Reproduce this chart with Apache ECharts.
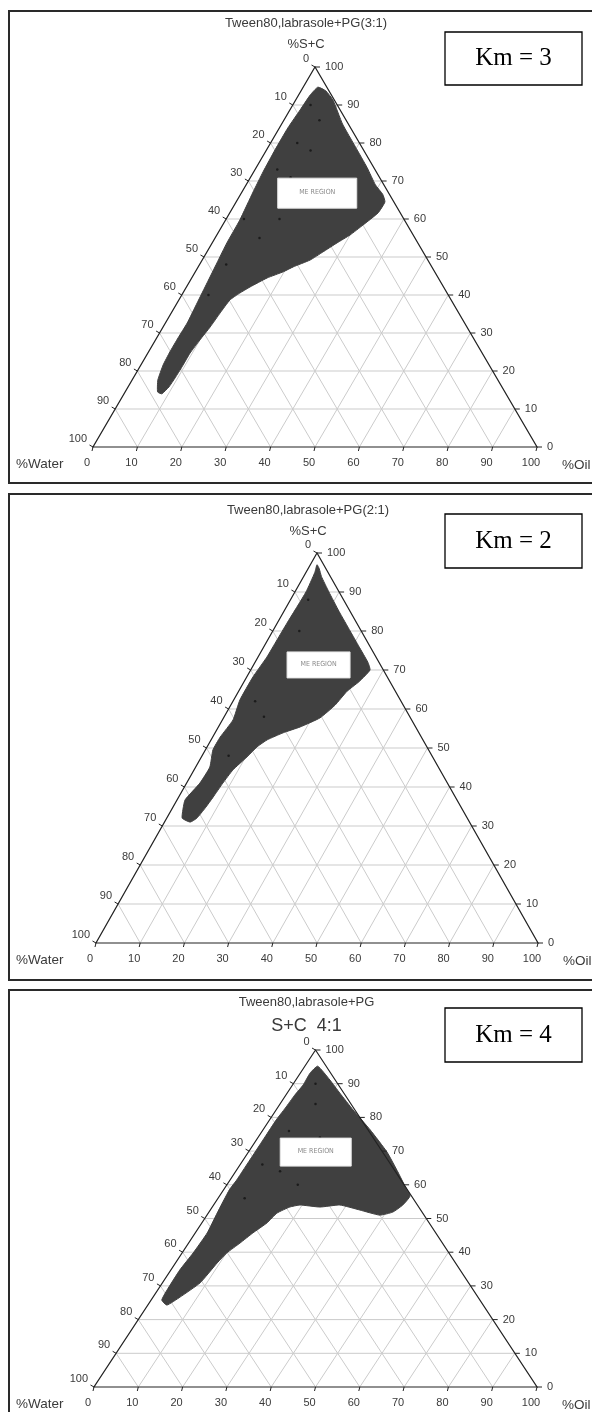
<!DOCTYPE html>
<html><head><meta charset="utf-8">
<script src="https://cdn.jsdelivr.net/npm/echarts@6/dist/echarts.min.js"></script>
<style>html,body{margin:0;padding:0;background:#fff}#c{width:592px;height:1412px}</style>
</head><body><div id="c"></div>
<script>
// ---------- data ----------
const tickValues = [0,10,20,30,40,50,60,70,80,90,100];
const gridLevels = [10,20,30,40,50,60,70,80,90];
const panelTitles = ['Tween80,labrasole+PG(3:1)','Tween80,labrasole+PG(2:1)','Tween80,labrasole+PG'];
const panelSubtitles = ['%S+C','%S+C','S+C  4:1'];
const kmLabels = ['Km = 3','Km = 2','Km = 4'];
const leftCornerLabel = '%Water';
const rightCornerLabel = '%Oil';
const meLabel = 'ME REGION';
// ME region boundaries as [oil %, S+C %]
const regionKm3 = [[3.3,94.7],[5.6,93.7],[8.4,91.3],[13.7,85.0],[19.6,79.0],[25.0,73.5],[29.1,69.0],[32.0,66.5],[33.5,64.5],[33.4,61.6],[31.6,58.4],[30.0,55.8],[28.1,53.7],[26.1,51.3],[24.3,49.2],[21.4,47.4],[19.8,46.1],[17.0,44.5],[14.3,42.1],[12.8,40.5],[11.5,38.7],[11.0,35.3],[10.6,31.6],[10.0,28.2],[9.5,24.7],[9.5,21.1],[9.4,18.2],[9.2,15.8],[8.5,14.0],[7.3,14.5],[5.8,17.6],[5.0,21.6],[4.8,25.0],[4.8,28.7],[4.9,32.6],[4.5,37.9],[4.1,43.2],[3.7,48.4],[3.3,53.7],[3.2,59.7],[2.5,67.1],[2.1,72.4],[1.9,78.2],[1.9,84.0],[2.3,88.7],[2.6,92.6]];
const regionKm2 = [[1.5,97.0],[2.5,96.0],[4.0,94.0],[7.7,90.0],[12.5,85.0],[17.5,80.0],[21.5,76.0],[25.5,72.0],[27.0,70.0],[26.0,67.0],[24.5,64.5],[23.6,61.0],[21.8,57.7],[18.5,55.4],[15.4,53.9],[12.7,52.1],[11.3,50.3],[10.3,47.7],[8.8,44.4],[8.2,41.0],[7.8,37.4],[7.4,34.6],[6.8,32.0],[5.8,31.0],[3.5,32.0],[2.6,34.1],[1.8,36.7],[3.0,41.0],[3.2,45.1],[1.7,49.5],[1.7,52.8],[2.4,57.2],[1.4,62.3],[1.4,68.2],[2.0,73.3],[2.1,77.7],[2.2,82.0],[2.5,90.0],[2.0,95.0]];
const regionKm4 = [[2.9,95.2],[7.7,91.1],[11.9,87.2],[17.4,82.2],[24.2,76.3],[31.3,69.7],[36.7,63.8],[40.4,59.6],[43.0,56.7],[42.7,54.0],[41.5,51.9],[39.0,51.0],[33.8,52.5],[28.5,54.0],[24.3,53.4],[19.5,54.0],[17.5,53.4],[15.5,51.6],[14.7,48.7],[13.0,45.7],[11.6,42.7],[10.1,39.8],[9.4,36.8],[8.5,30.9],[6.1,26.7],[4.3,24.3],[2.4,25.8],[2.1,28.8],[2.0,34.7],[2.5,39.8],[2.7,45.7],[2.0,51.6],[1.3,58.5],[1.5,61.4],[1.5,68.2],[1.5,74.2],[1.5,79.2],[1.8,82.8],[2.0,86.6],[2.4,89.6],[2.2,93.2]];
const regions = [regionKm3, regionKm2, regionKm4];
// scattered formulation points visible inside the regions [oil %, S+C %]
const dotsKm3 = [[4,90],[8,86],[6,80],[10,78],[5,73],[9,71],[4,60],[12,60],[6,48],[10,55],[6,40]];
const dotsKm2 = [[4,88],[6,80],[8,72],[5,62],[9,58],[6,48]];
const dotsKm4 = [[5,90],[8,84],[6,76],[14,74],[5,66],[10,64],[16,60],[6,56]];
const dots = [dotsKm3, dotsKm2, dotsKm4];
// ME REGION label anchor [oil %, S+C %]
const meAnchors = [[17.1,66.8],[14.7,71.3],[15.2,69.7]];

// ---------- layout (pixels) ----------
const panels = [
  {grid:{left:93, top:67, width:444, height:380}, frame:[9,11,600,472], titleY:23, subY:44, subSize:13, km:[445,32,137,53], me:[79,30]},
  {grid:{left:96, top:553, width:442, height:390}, frame:[9,494,600,486], titleY:510, subY:531, subSize:13, km:[445,514,137,54], me:[63,26]},
  {grid:{left:94, top:1050, width:443, height:337}, frame:[9,990,600,430], titleY:1002, subY:1026, subSize:18, km:[445,1008,137,54], me:[71,28]}
];

const toXY = (o, s) => [o + s / 2, s];
const TXT = '#3a3a3a';
const SANS = 'Liberation Sans, Arial, sans-serif';

function mkSeries(pi) {
  const ax = {xAxisIndex: pi, yAxisIndex: pi, coordinateSystem: 'cartesian2d', clip: false, silent: true, animation: false};
  const list = [];
  list.push(Object.assign({type:'custom', z:1, data: gridLevels.map(v=>[v]),
    renderItem(params, api) {
      const v = api.value(0);
      const T = (o,s) => api.coord(toXY(o,s));
      const segs = [[T(0,v),T(100-v,v)],[T(v,0),T(v,100-v)],[T(100-v,0),T(0,100-v)]];
      return {type:'group', children: segs.map(s=>({type:'line', shape:{x1:s[0][0],y1:s[0][1],x2:s[1][0],y2:s[1][1]}, style:{stroke:'#cbcbcb', lineWidth:1}}))};
    }}, ax));
  list.push(Object.assign({type:'custom', z:2, data: regions[pi].map(p=>toXY(p[0],p[1])),
    renderItem(params, api) {
      if (params.dataIndex !== 0) return null;
      const pts = regions[pi].map(p => api.coord(toXY(p[0],p[1])));
      return {type:'polygon', shape:{points:pts, smooth:0.15}, style:{fill:'#404040', stroke:'#404040', lineWidth:1}};
    }}, ax));
  list.push(Object.assign({type:'scatter', z:3, symbolSize:2.5, itemStyle:{color:'#111'}, data: dots[pi].map(p=>toXY(p[0],p[1]))}, ax));
  list.push(Object.assign({type:'custom', z:3, data:[[0,0]],
    renderItem(params, api) {
      const pts = [api.coord(toXY(0,0)), api.coord(toXY(100,0)), api.coord(toXY(0,100))];
      return {type:'polygon', shape:{points:pts}, style:{fill:'none', stroke:'#222', lineWidth:1.2}};
    }}, ax));
  list.push(Object.assign({type:'custom', z:4, data: tickValues.map(v=>[v]),
    renderItem(params, api) {
      const v = api.value(0);
      const L = api.coord(toXY(0, 100 - v));
      const R = api.coord(toXY(100 - v, v));
      const B = api.coord(toXY(v, 0));
      const ts = {fill:TXT, fontSize:11, fontFamily:SANS};
      return {type:'group', children:[
        {type:'line', shape:{x1:L[0],y1:L[1],x2:L[0]-3.5,y2:L[1]-2}, style:{stroke:'#222',lineWidth:1}},
        {type:'line', shape:{x1:R[0],y1:R[1],x2:R[0]+5,y2:R[1]}, style:{stroke:'#222',lineWidth:1}},
        {type:'line', shape:{x1:B[0],y1:B[1],x2:B[0]-1,y2:B[1]+4}, style:{stroke:'#222',lineWidth:1}},
        {type:'text', x:L[0]-6, y:L[1]-8, style:Object.assign({text:String(v), align:'right', verticalAlign:'middle'}, ts)},
        {type:'text', x:R[0]+10, y:R[1], style:Object.assign({text:String(v), align:'left', verticalAlign:'middle'}, ts)},
        {type:'text', x:B[0]-6, y:B[1]+16, style:Object.assign({text:String(v), align:'center', verticalAlign:'middle'}, ts)}
      ]};
    }}, ax));
  list.push(Object.assign({type:'custom', z:5, data:[toXY(meAnchors[pi][0], meAnchors[pi][1])],
    renderItem(params, api) {
      const c = api.coord([api.value(0), api.value(1)]);
      const [w,h] = panels[pi].me;
      return {type:'group', children:[
        {type:'rect', shape:{x:c[0]-w/2, y:c[1]-h/2, width:w, height:h}, style:{fill:'#fff', stroke:'#e6e6e6', lineWidth:1}},
        {type:'text', x:c[0], y:c[1]-1, style:{text:meLabel, align:'center', verticalAlign:'middle', fill:'#8a8a8a', fontSize:7, fontFamily:'DejaVu Sans Condensed, Liberation Sans Narrow, Arial'}}
      ]};
    }}, ax));
  return list;
}

const graphics = [];
panels.forEach((p, i) => {
  const g = p.grid;
  const [fx, fy, fw, fh] = p.frame;
  graphics.push({type:'rect', shape:{x:fx, y:fy, width:fw, height:fh}, style:{fill:'none', stroke:'#2a2a2a', lineWidth:2}, z:0});
  const cx = g.left + g.width / 2 - 9;
  graphics.push({type:'text', x:cx, y:p.titleY, style:{text:panelTitles[i], align:'center', verticalAlign:'middle', fill:TXT, fontSize:13, fontFamily:SANS}});
  graphics.push({type:'text', x:cx, y:p.subY, style:{text:panelSubtitles[i], align:'center', verticalAlign:'middle', fill:TXT, fontSize:p.subSize, fontFamily:SANS}});
  graphics.push({type:'text', x:16, y:g.top + g.height + 17, style:{text:leftCornerLabel, align:'left', verticalAlign:'middle', fill:TXT, fontSize:13.5, fontFamily:SANS}});
  graphics.push({type:'text', x:g.left + g.width + 25, y:g.top + g.height + 18, style:{text:rightCornerLabel, align:'left', verticalAlign:'middle', fill:TXT, fontSize:13.5, fontFamily:SANS}});
  const [kx, ky, kw, kh] = p.km;
  graphics.push({type:'rect', shape:{x:kx, y:ky, width:kw, height:kh}, style:{fill:'#fff', stroke:'#000', lineWidth:1.3}});
  graphics.push({type:'text', x:kx + kw/2, y:ky + kh/2, style:{text:kmLabels[i], align:'center', verticalAlign:'middle', fill:'#000', fontSize:25, fontFamily:'Liberation Serif, Times New Roman, serif'}});
});

const chart = echarts.init(document.getElementById('c'), null, {renderer:'canvas'});
chart.setOption({
  animation: false,
  grid: panels.map(p => Object.assign({}, p.grid)),
  xAxis: panels.map((p,i) => ({type:'value', gridIndex:i, min:0, max:100, show:false})),
  yAxis: panels.map((p,i) => ({type:'value', gridIndex:i, min:0, max:100, show:false})),
  series: [].concat(mkSeries(0), mkSeries(1), mkSeries(2)),
  graphic: graphics
});
</script></body></html>
